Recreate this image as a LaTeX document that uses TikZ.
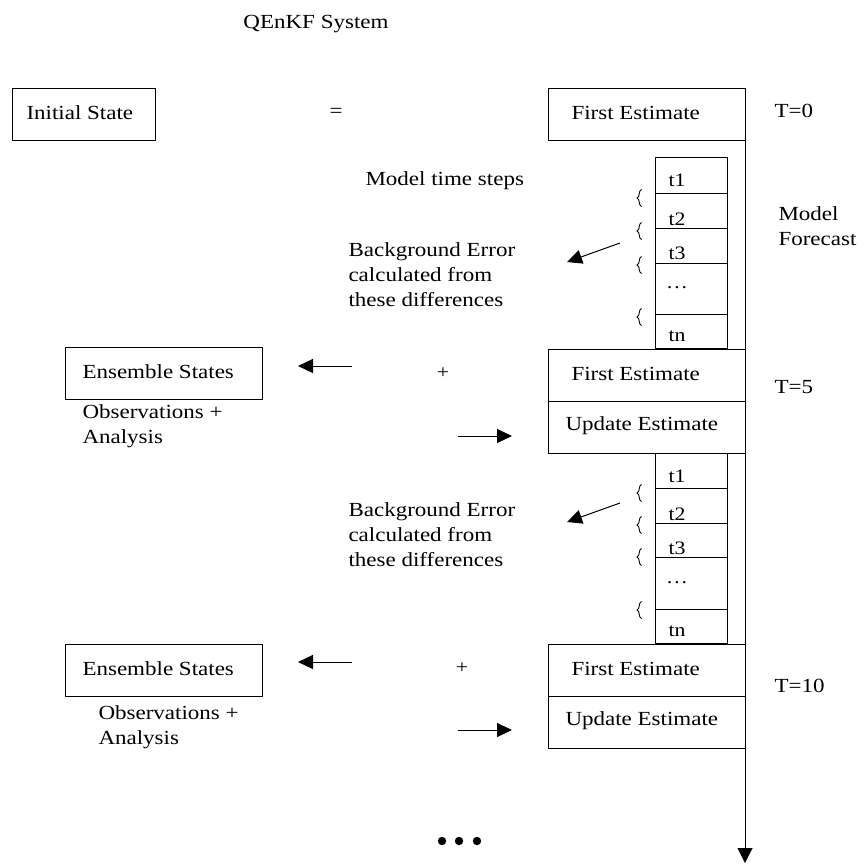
\documentclass[tikz,border=0pt]{standalone}
\usepackage{fontspec}
\setmainfont[FakeStretch=1.15]{Liberation Serif}
\usetikzlibrary{arrows.meta}

\begin{document}
\begin{tikzpicture}[x=1pt,y=-1pt, line width=1pt,
  box/.style={draw, rectangle, inner sep=0pt, outer sep=0pt, anchor=north west},
  lbl/.style={font=\fontsize{20}{25}\selectfont, inner sep=0pt},
  small/.style={font=\fontsize{19}{22}\selectfont, inner sep=0pt},
  arr/.style={-{Triangle[length=15pt,width=14pt]}},
  brc/.pic={\draw[line width=0.9pt] (3.5,-8.5) .. controls (0,-7) and (2.5,-1.5) .. (-1,0) .. controls (2.5,1.5) and (0,7) .. (3.5,8.5);},
]
\useasboundingbox (0,0) rectangle (863,867);

% title
\node[lbl] (title) at (316,24) {QEnKF System};

% T = 0
\node[box, minimum width=143, minimum height=52] (init) at (12,88) {};
\node[lbl, anchor=west] (initT) at ([xshift=14,yshift=1]init.west) {Initial State};
\node[lbl] (eq) at (336,113) {=};
\node[box, minimum width=197, minimum height=52] (fe0) at (548,88) {};
\node[lbl, anchor=west] (fe0T) at ([xshift=23,yshift=1.5]fe0.west) {First Estimate};
\node[lbl, anchor=west] (t0) at (774,111) {T=0};

\node[lbl, anchor=west] (mts) at (365,181) {Model time steps};
\node[lbl, anchor=west, align=left] (mf) at (778,226) {Model\\Forecast};

% model time-step stack, first forecast
\foreach \name/\top/\bot/\txt/\ty in {a1/157/193/t1/180, a2/193/228/t2/219, a3/228/263/t3/253, a4/263/314/\dots/288, a5/314/348/tn/336}{
  \node[box, minimum width=72, minimum height=\bot-\top] (\name) at (655,\top) {};
  \begin{scope}
    \clip (\name.north west) rectangle (\name.south east);
    \node[small] at (677,\ty) {\txt};
  \end{scope}
}
\foreach \y in {198,231,265,317} \pic at (638,\y) {brc};

\node[lbl, anchor=west, align=left] (be1) at (348,275) {Background Error\\calculated from\\these differences};
\coordinate (be1s) at (620,243);
\coordinate (be1e) at (567,262);
\draw[arr] (be1s) -- (be1e);

% T = 5
\node[box, minimum width=197, minimum height=52] (fe5) at (548,349) {};
\node[lbl, anchor=west] (fe5T) at ([xshift=23,yshift=1.5]fe5.west) {First Estimate};
\node[box, minimum width=197, minimum height=52] (ue5) at (548,401) {};
\node[lbl, anchor=west] (ue5T) at ([xshift=17,yshift=1.5]ue5.west) {Update Estimate};
\node[lbl, anchor=west] (t5) at (774,387) {T=5};

\node[box, minimum width=197, minimum height=52] (en5) at (65,347) {};
\node[lbl, anchor=west] (en5T) at ([xshift=17,yshift=1.5]en5.west) {Ensemble States};
\coordinate (l5s) at (352,366);
\coordinate (l5e) at (298,366);
\draw[arr] (l5s) -- (l5e);
\node[small] (p5) at (443,373) {+};
\coordinate (r5s) at (458,436);
\coordinate (r5e) at (512,436);
\draw[arr] (r5s) -- (r5e);
\node[lbl, anchor=west, align=left] (oa5) at (82,426) {Observations +\\Analysis};

% model time-step stack, second forecast
\foreach \name/\top/\bot/\txt/\ty in {b1/453/488/t1/476, b2/488/523/t2/514, b3/523/557/t3/548, b4/557/609/\dots/583, b5/609/643/tn/631}{
  \node[box, minimum width=72, minimum height=\bot-\top] (\name) at (655,\top) {};
  \begin{scope}
    \clip (\name.north west) rectangle (\name.south east);
    \node[small] at (677,\ty) {\txt};
  \end{scope}
}
\foreach \y in {493,525,557,610} \pic at (638,\y) {brc};

\node[lbl, anchor=west, align=left] (be2) at (348,535) {Background Error\\calculated from\\these differences};
\coordinate (be2s) at (620,503);
\coordinate (be2e) at (567,522);
\draw[arr] (be2s) -- (be2e);

% T = 10
\node[box, minimum width=197, minimum height=52] (fe10) at (548,644) {};
\node[lbl, anchor=west] (fe10T) at ([xshift=23,yshift=1.5]fe10.west) {First Estimate};
\node[box, minimum width=197, minimum height=52] (ue10) at (548,696) {};
\node[lbl, anchor=west] (ue10T) at ([xshift=17,yshift=1.5]ue10.west) {Update Estimate};
\node[lbl, anchor=west] (t10) at (774,686) {T=10};

\node[box, minimum width=197, minimum height=52] (en10) at (65,644) {};
\node[lbl, anchor=west] (en10T) at ([xshift=17,yshift=1.5]en10.west) {Ensemble States};
\coordinate (l10s) at (352,662);
\coordinate (l10e) at (298,662);
\draw[arr] (l10s) -- (l10e);
\node[small] (p10) at (462,668) {+};
\coordinate (r10s) at (458,730);
\coordinate (r10e) at (512,730);
\draw[arr] (r10s) -- (r10e);
\node[lbl, anchor=west, align=left] (oa10) at (98,727) {Observations +\\Analysis};

% time axis
\coordinate (tend) at (745,863);
\draw[-{Triangle[length=15pt,width=15pt]}] (fe0.north east) -- (tend);

% continuation dots
\foreach \x in {442,459,477} \fill (\x,841) circle (4.2);
\end{tikzpicture}
\end{document}
